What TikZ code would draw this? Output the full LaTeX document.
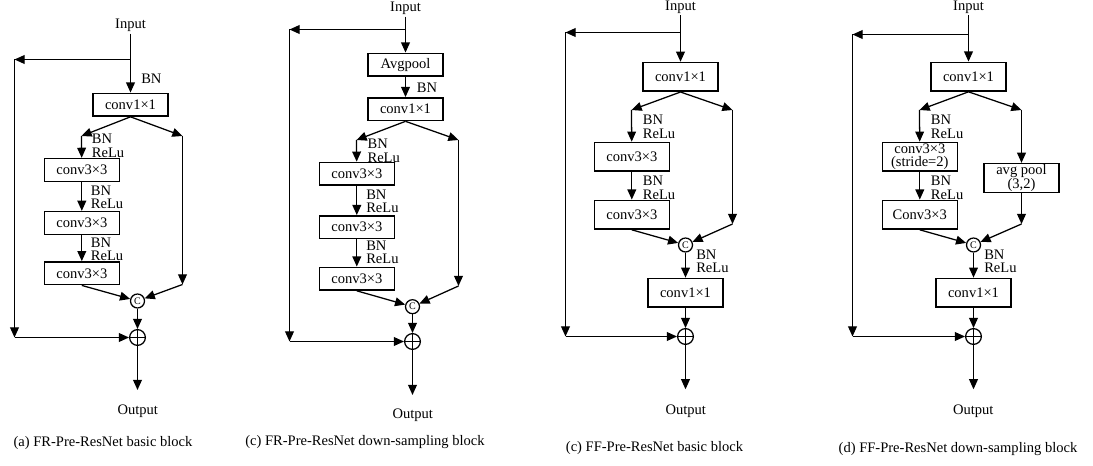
\documentclass[tikz,border=0pt]{standalone}
\usepackage{fontspec}
\setmainfont{Liberation Serif}
\usetikzlibrary{arrows.meta}
\begin{document}
\begin{tikzpicture}[x=0.75pt,y=-0.75pt,
  font=\fontsize{10.9}{10.3}\selectfont,
  arr/.style={-{Triangle[length=7.6pt,width=6.6pt]}, line width=0.95pt},
  blk/.style={draw, line width=1.2pt, minimum width=56.25pt, inner sep=0pt, align=center},
  blkA/.style={blk, minimum height=17pt},
  blkB/.style={blk, minimum height=21.5pt},
  two/.style={font=\fontsize{10.9}{9.6}\selectfont},
  lbl/.style={anchor=west, inner sep=0pt, align=left},
  txt/.style={inner sep=1.5pt},
  cat/.style={draw, circle, line width=0.95pt, minimum size=10.5pt, inner sep=0pt, font=\fontsize{7.5}{7.5}\selectfont},
  add/.style={draw, circle, line width=0.95pt, minimum size=11.8pt, inner sep=0pt,
    path picture={\draw[line width=0.95pt] (path picture bounding box.north) -- (path picture bounding box.south)
      (path picture bounding box.west) -- (path picture bounding box.east);}}
]
\useasboundingbox (0,0) rectangle (1093,466);

% ---------------- Panel (a) ----------------
\node[txt] (inA) at (130.5,25) {Input};
\coordinate (aS) at (130.5,59.5);
\coordinate (aL) at (14.5,59.5);
\coordinate (aLb) at (14.5,337.5);
\node[blkA] (a1) at (130.5,104.7) {conv1×1};
\node[lbl] (al0) at (141,79) {BN};
\coordinate (aBL) at (81.5,136);
\coordinate (aBR) at (182.5,136);
\node[blkA] (a2) at (81.8,170) {conv3×3};
\node[blkA] (a3) at (81.8,223) {conv3×3};
\node[blkA] (a4) at (81.8,273.3) {conv3×3};
\node[lbl] (al1) at (91.7,145.8) {BN\\ReLu};
\node[lbl] (al2) at (90.7,197.2) {BN\\ReLu};
\node[lbl] (al3) at (90.7,249.2) {BN\\ReLu};
\coordinate (aRb) at (182.5,284.5);
\node[cat] (aC) at (137.5,301) {C};
\node[add] (aP) at (137.5,337.5) {};
\coordinate (aO) at (137.5,390);
\node[txt] (outA) at (137.7,411.7) {Output};
\node[txt] (capA) at (103,443.3) {(a) FR-Pre-ResNet basic block};
\draw[arr] (inA) -- (a1);
\draw[arr] (aS) -- (aL);
\draw[arr] (aL) -- (aLb);
\draw[arr] (aLb) -- (aP);
\draw[arr] (a1.south) -- (aBL);
\draw[arr] (a1.south) -- (aBR);
\draw[arr] (aBL) -- (a2);
\draw[arr] (a2) -- (a3);
\draw[arr] (a3) -- (a4);
\draw[arr] (aBR) -- (aRb);
\draw[arr] (aRb) -- (aC);
\draw[arr] (a4.south) -- (aC);
\draw[arr] (aC) -- (aP);
\draw[arr] (aP) -- (aO);

% ---------------- Panel (b) ----------------
\node[txt] (inB) at (405.5,8) {Input};
\coordinate (bS) at (405.5,29.5);
\coordinate (bL) at (289.5,29.5);
\coordinate (bLb) at (289.5,341.5);
\node[blkA] (b0) at (405.5,64.7) {Avgpool};
\node[lbl] (bl0) at (416.7,87.3) {BN};
\node[blkA] (b1) at (405.5,109.2) {conv1×1};
\coordinate (bBL) at (356.5,140);
\coordinate (bBR) at (458.5,140);
\node[blkA] (b2) at (356.8,173.8) {conv3×3};
\node[blkA] (b3) at (356.8,227.2) {conv3×3};
\node[blkA] (b4) at (356.8,278.7) {conv3×3};
\node[lbl] (bl1) at (367.3,150.8) {BN\\ReLu};
\node[lbl] (bl2) at (366,201.3) {BN\\ReLu};
\node[lbl] (bl3) at (366,252.2) {BN\\ReLu};
\coordinate (bRb) at (458.5,286);
\node[cat] (bC) at (412.5,306.7) {C};
\node[add] (bP) at (412.5,341.5) {};
\coordinate (bO) at (412.5,395);
\node[txt] (outB) at (412.8,415) {Output};
\node[txt] (capB) at (365,441.7) {(c) FR-Pre-ResNet down-sampling block};
\draw[arr] (inB) -- (b0);
\draw[arr] (bS) -- (bL);
\draw[arr] (bL) -- (bLb);
\draw[arr] (bLb) -- (bP);
\draw[arr] (b0) -- (b1);
\draw[arr] (b1.south) -- (bBL);
\draw[arr] (b1.south) -- (bBR);
\draw[arr] (bBL) -- (b2);
\draw[arr] (b2) -- (b3);
\draw[arr] (b3) -- (b4);
\draw[arr] (bBR) -- (bRb);
\draw[arr] (bRb) -- (bC);
\draw[arr] (b4.south) -- (bC);
\draw[arr] (bC) -- (bP);
\draw[arr] (bP) -- (bO);

% ---------------- Panel (c) ----------------
\node[txt] (inC) at (680.5,6.8) {Input};
\coordinate (cS) at (680.5,32.5);
\coordinate (cL) at (565.5,32.5);
\coordinate (cLb) at (565.5,336.5);
\node[blkB] (c1) at (680.5,76.9) {conv1×1};
\coordinate (cBL) at (631.5,110);
\coordinate (cBR) at (732.5,110);
\node[blkB] (c2) at (631.8,156.8) {conv3×3};
\node[blkB] (c3) at (631.8,214.7) {conv3×3};
\node[lbl] (cl1) at (642.7,126.7) {BN\\ReLu};
\node[lbl] (cl2) at (642.7,187.5) {BN\\ReLu};
\coordinate (cRb) at (732.5,224);
\node[cat] (cC) at (685.5,245) {C};
\node[lbl] (cl3) at (696,261.3) {BN\\ReLu};
\node[blkB] (c4) at (685.5,292.8) {conv1×1};
\node[add] (cP) at (685.5,336.5) {};
\coordinate (cO) at (685.5,389.3);
\node[txt] (outC) at (685.7,411.7) {Output};
\node[txt] (capC) at (654.5,448.3) {(c) FF-Pre-ResNet basic block};
\draw[arr] (inC) -- (c1);
\draw[arr] (cS) -- (cL);
\draw[arr] (cL) -- (cLb);
\draw[arr] (cLb) -- (cP);
\draw[arr] (c1.south) -- (cBL);
\draw[arr] (c1.south) -- (cBR);
\draw[arr] (cBL) -- (c2);
\draw[arr] (c2) -- (c3);
\draw[arr] (cBR) -- (cRb);
\draw[arr] (cRb) -- (cC);
\draw[arr] (c3.south) -- (cC);
\draw[arr] (cC) -- (c4);
\draw[arr] (c4) -- (cP);
\draw[arr] (cP) -- (cO);

% ---------------- Panel (d) ----------------
\node[txt] (inD) at (968.5,6.9) {Input};
\coordinate (dS) at (968.5,34.5);
\coordinate (dL) at (852.5,34.5);
\coordinate (dLb) at (852.5,336.5);
\node[blkB] (d1) at (968.5,76.7) {conv1×1};
\coordinate (dBL) at (919.5,110);
\coordinate (dBR) at (1021.5,110);
\node[blkB,two] (d2) at (919.8,156.8) {conv3×3\\(stride=2)};
\node[blkB] (d3) at (919.8,214.7) {Conv3×3};
\node[lbl] (dl1) at (930.7,126.7) {BN\\ReLu};
\node[lbl] (dl2) at (930.7,187.5) {BN\\ReLu};
\node[blkB,two] (dA) at (1021.5,178) {avg pool\\(3,2)};
\coordinate (dRb) at (1021.5,224);
\node[cat] (dC) at (973.5,245) {C};
\node[lbl] (dl3) at (984,261.3) {BN\\ReLu};
\node[blkB] (d4) at (973.5,292.8) {conv1×1};
\node[add] (dP) at (973.5,336.5) {};
\coordinate (dO) at (973.5,389.3);
\node[txt] (outD) at (973.3,411.7) {Output};
\node[txt] (capD) at (958,449) {(d) FF-Pre-ResNet down-sampling block};
\draw[arr] (inD) -- (d1);
\draw[arr] (dS) -- (dL);
\draw[arr] (dL) -- (dLb);
\draw[arr] (dLb) -- (dP);
\draw[arr] (d1.south) -- (dBL);
\draw[arr] (d1.south) -- (dBR);
\draw[arr] (dBL) -- (d2);
\draw[arr] (d2) -- (d3);
\draw[arr] (dBR) -- (dA);
\draw[arr] (dA) -- (dRb);
\draw[arr] (dRb) -- (dC);
\draw[arr] (d3.south) -- (dC);
\draw[arr] (dC) -- (d4);
\draw[arr] (d4) -- (dP);
\draw[arr] (dP) -- (dO);
\end{tikzpicture}
\end{document}
